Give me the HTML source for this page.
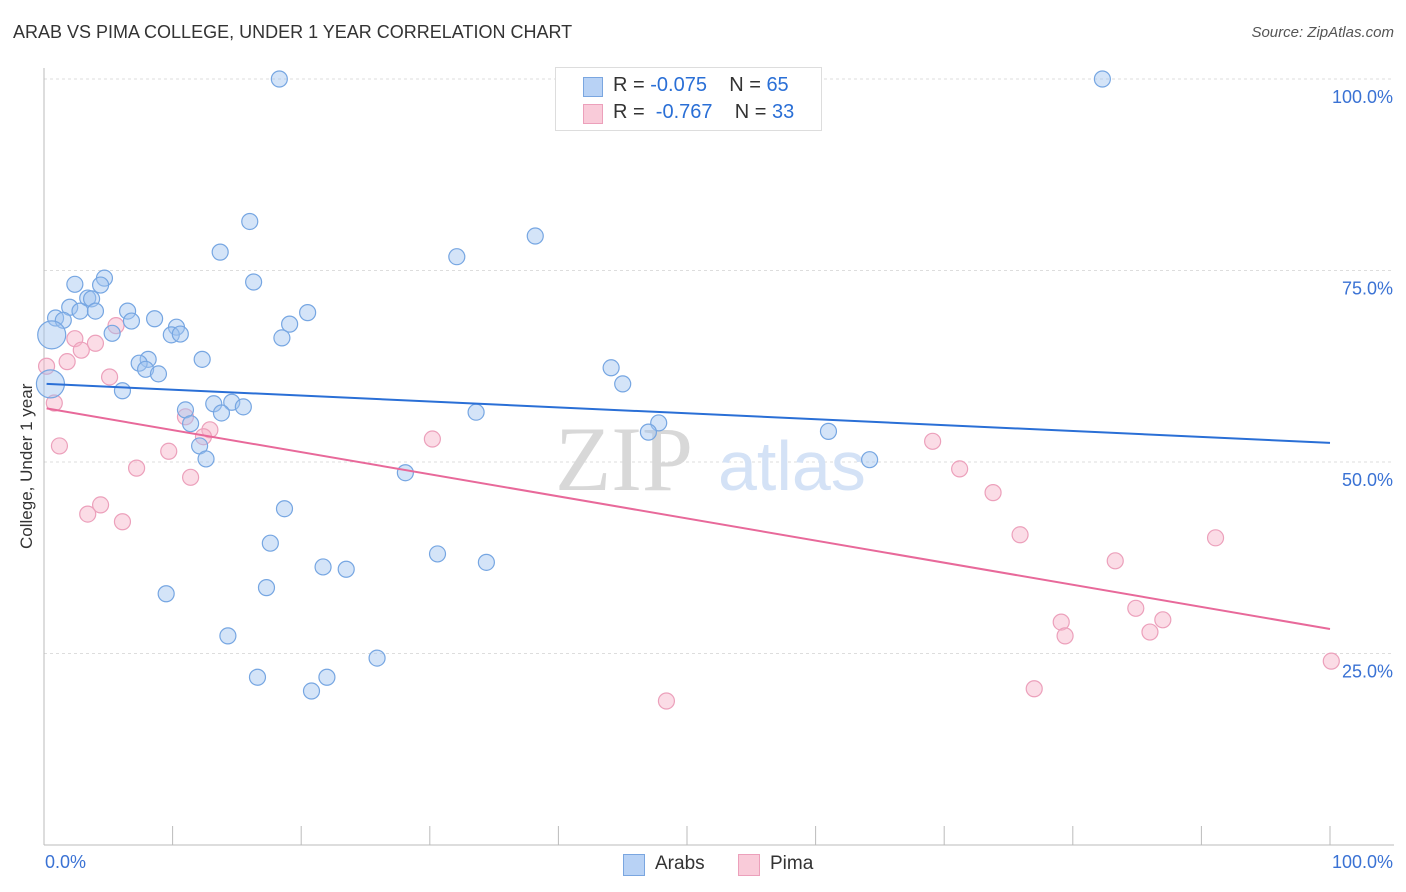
<!DOCTYPE html>
<html><head><meta charset="utf-8"><style>
body{margin:0;background:#fff;font-family:"Liberation Sans",sans-serif;}
#wrap{position:relative;width:1406px;height:892px;overflow:hidden;}
.t{position:absolute;white-space:nowrap;}
</style></head><body>
<div id="wrap">
<div class="t" style="left:13px;top:22px;font-size:18px;color:#333;">ARAB VS PIMA COLLEGE, UNDER 1 YEAR CORRELATION CHART</div>
<div class="t" style="right:12px;top:24px;font-size:15px;color:#555;font-style:italic;">Source: ZipAtlas.com</div>
<svg id="svg" width="1406" height="892" style="position:absolute;left:0;top:0"></svg>
</div>
<script>
const yTicks=[100,75,50,25];
const yTickLabels=["100.0%","75.0%","50.0%","25.0%"];
const xTicks=[0,10,20,30,40,50,60,70,80,90,100];
const arabX=[18.3,82.3,16.0,38.2,13.7,32.1,16.3,4.7,2.4,4.4,3.4,3.7,2.0,2.8,4.0,6.5,20.5,0.9,1.5,6.8,8.6,19.1,10.3,5.3,9.9,10.6,18.5,0.6,8.1,12.3,7.4,7.9,8.9,44.1,45.0,0.5,6.1,13.2,14.6,15.5,11.0,13.8,33.6,47.8,47.0,61.0,11.4,12.1,12.6,64.2,28.1,18.7,17.6,30.6,34.4,21.7,23.5,17.3,9.5,14.3,25.9,16.6,22.0,20.8];
const arabY=[100,100,81.4,79.5,77.4,76.8,73.5,74.0,73.2,73.1,71.4,71.3,70.2,69.7,69.7,69.7,69.5,68.8,68.5,68.4,68.7,68.0,67.6,66.8,66.6,66.7,66.2,66.6,63.4,63.4,62.9,62.1,61.5,62.3,60.2,60.2,59.3,57.6,57.8,57.2,56.8,56.4,56.5,55.1,53.9,54.0,55.0,52.1,50.4,50.3,48.6,43.9,39.4,38.0,36.9,36.3,36.0,33.6,32.8,27.3,24.4,21.9,21.9,20.1];
const arabBig=[27,35];
const pimaX=[0.2,0.8,1.8,2.4,2.9,4.0,5.6,5.1,1.2,7.2,9.7,11.0,11.4,12.9,12.4,4.4,3.4,6.1,30.2,69.1,71.2,73.8,75.9,83.3,91.1,79.1,79.4,84.9,87.0,86.0,77.0,48.4,100.1];
const pimaY=[62.5,57.7,63.1,66.1,64.6,65.5,67.8,61.1,52.1,49.2,51.4,55.9,48.0,54.2,53.3,44.4,43.2,42.2,53.0,52.7,49.1,46.0,40.5,37.1,40.1,29.1,27.3,30.9,29.4,27.8,20.4,18.8,24.0];
const arabTrend=[60.2,52.5];
const pimaTrend=[57.0,28.2];

const svg=document.getElementById('svg');
const NS='http://www.w3.org/2000/svg';
const X=v=>44+v*12.86, Y=v=>845-v*7.66;
function mk(tag,attrs){const e=document.createElementNS(NS,tag);for(const k in attrs)e.setAttribute(k,attrs[k]);svg.appendChild(e);return e;}
yTicks.forEach((t,i)=>{
 const g=mk('line',{x1:44,x2:1394,y1:Y(t),y2:Y(t),stroke:'#ddd','stroke-dasharray':'3,3'});
 
 
 const l=mk('text',{x:1393,y:Y(t)+24,'text-anchor':'end','font-size':18,fill:'#3a72d4','font-family':'Liberation Sans, sans-serif'});
 l.textContent=yTickLabels[i];
 
 
});
const wm=mk('text',{x:555,y:490,'font-size':92,fill:'#d8d8d8','font-family':'Liberation Serif, serif'});wm.textContent='ZIP';


const wm2=mk('text',{x:718,y:490,'font-size':70,fill:'#d4e2f6','font-family':'Liberation Sans, sans-serif'});wm2.textContent='atlas';


let ax=mk('line',{x1:44,x2:44,y1:68,y2:845,stroke:'#bbb'});


ax=mk('line',{x1:44,x2:1394,y1:845,y2:845,stroke:'#bbb'});


xTicks.forEach(t=>{const e=mk('line',{x1:X(t),x2:X(t),y1:826,y2:845,stroke:'#bbb'});
 
 });
pimaX.forEach((v,i)=>{const c=mk('circle',{cx:X(v),cy:Y(pimaY[i]),r:8,fill:'rgba(246,178,200,0.45)',stroke:'#eca0bb','stroke-width':1.2});
 
 });
arabX.forEach((v,i)=>{const r=arabBig.includes(i)?14:8;const c=mk('circle',{cx:X(v),cy:Y(arabY[i]),r:r,fill:'rgba(160,195,240,0.45)',stroke:'#76a6e2','stroke-width':1.2});
 
 });
let tl=mk('line',{x1:X(0.2),x2:X(100),y1:Y(arabTrend[0]),y2:Y(arabTrend[1]),stroke:'#2a6fd6','stroke-width':2});


tl=mk('line',{x1:X(0.2),x2:X(100),y1:Y(pimaTrend[0]),y2:Y(pimaTrend[1]),stroke:'#e8699a','stroke-width':2});


</script>
<div class="t" style="left:45px;top:852px;font-size:18px;color:#3a72d4;">0.0%</div>
<div class="t" style="right:13px;top:852px;font-size:18px;color:#3a72d4;">100.0%</div>
<div class="t" style="left:17px;top:549px;font-size:17px;color:#333;transform:rotate(-90deg);transform-origin:0 0;">College, Under 1 year</div>
<div style="position:absolute;left:555px;top:67px;width:265px;height:62px;border:1px solid #ddd;background:#fff;font-size:20px;">
 <div style="position:absolute;left:27px;top:9px;width:18px;height:18px;background:#b8d2f5;border:1px solid #7aa6e0;"></div>
 <div class="t" style="left:57px;top:6px;color:#333;">R = <span style="color:#2a6fd6">-0.075</span>&nbsp;&nbsp;&nbsp; N = <span style="color:#2a6fd6">65</span></div>
 <div style="position:absolute;left:27px;top:36px;width:18px;height:18px;background:#f9cbd9;border:1px solid #eca0bb;"></div>
 <div class="t" style="left:57px;top:33px;color:#333;">R = &nbsp;<span style="color:#2a6fd6">-0.767</span>&nbsp;&nbsp;&nbsp; N = <span style="color:#2a6fd6">33</span></div>
</div>
<div style="position:absolute;left:623px;top:854px;width:20px;height:20px;background:#b8d2f5;border:1px solid #7aa6e0;"></div>
<div class="t" style="left:655px;top:853px;font-size:19px;color:#333;">Arabs</div>
<div style="position:absolute;left:738px;top:854px;width:20px;height:20px;background:#f9cbd9;border:1px solid #eca0bb;"></div>
<div class="t" style="left:770px;top:853px;font-size:19px;color:#333;">Pima</div>
</body></html>
